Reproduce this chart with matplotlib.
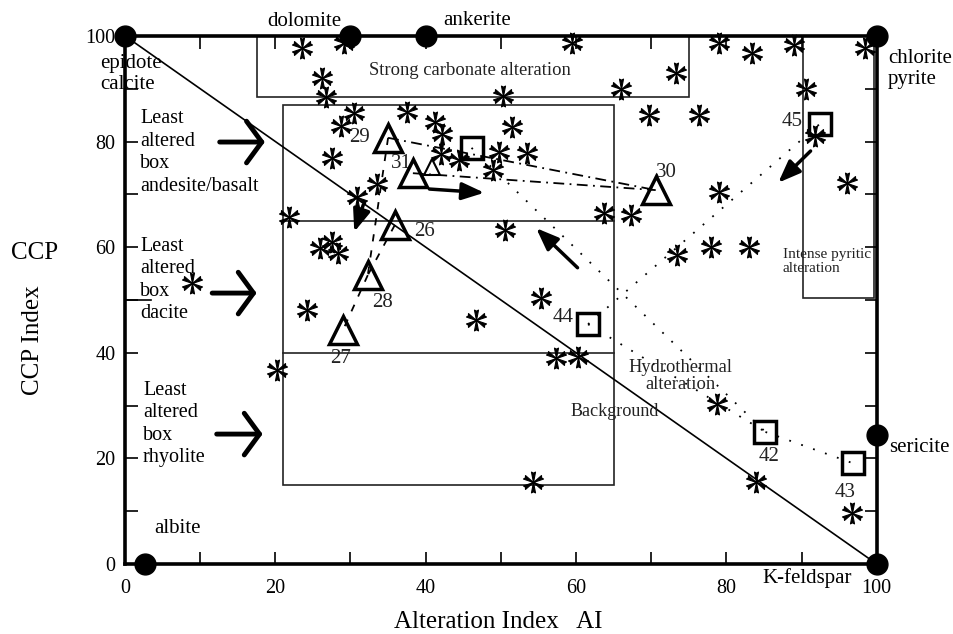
import numpy as np
import matplotlib
matplotlib.use('Agg')
import matplotlib.pyplot as plt
from matplotlib.patches import Rectangle
from matplotlib.path import Path

plt.rcParams['font.family'] = ['Liberation Serif', 'DejaVu Serif']

# samples plotted as asterisks (AI, CCP)
ai_samples = [23.5, 29.2, 26.2, 26.7, 30.5, 28.8, 37.5, 41.2, 42.2, 42.0,
              44.4, 51.5, 49.8, 53.5, 48.9, 27.5, 33.5, 30.9, 21.8, 63.7,
              67.3, 50.6, 25.9, 27.6, 28.3, 8.9, 24.2, 20.2, 46.7, 55.4,
              57.4, 60.2, 54.3, 78.8, 83.9, 96.7, 50.3, 66.0, 59.5, 73.3,
              79.0, 83.4, 89.0, 98.4, 90.6, 69.7, 76.4, 91.8, 96.0, 79.0,
              73.4, 78.0, 83.0]
ccp_samples = [97.7, 98.7, 92.0, 88.4, 85.4, 83.0, 85.6, 83.7, 81.4, 77.7,
               76.5, 82.8, 78.0, 77.8, 74.6, 76.9, 72.0, 69.5, 65.7, 66.5,
               66.1, 63.3, 59.8, 61.0, 58.9, 53.2, 48.1, 36.7, 46.2, 50.4,
               39.0, 39.2, 15.5, 30.3, 15.5, 9.7, 88.6, 90.0, 98.7, 93.0,
               98.7, 96.8, 98.3, 97.7, 90.0, 85.0, 85.0, 81.1, 72.2, 70.5,
               58.5, 60.0, 60.0]

# triangles
tri_ids = ['29', '31', '30', '26', '28', '27']
tri_ai = [35.0, 38.3, 70.6, 35.9, 32.3, 29.0]
tri_ccp = [80.7, 74.0, 70.8, 64.2, 54.7, 44.3]
small_tri_ai = [40.9]
small_tri_ccp = [75.2]

# squares
sq_ids = ['', '44', '42', '43', '45']
sq_ai = [46.1, 61.6, 85.2, 96.8, 92.4]
sq_ccp = [78.8, 45.4, 25.0, 19.1, 83.3]

# end-member minerals
mineral_names = ['epidote\ncalcite', 'dolomite', 'ankerite', 'chlorite\npyrite',
                 'sericite', 'K-feldspar', 'albite']
mineral_ai = [0, 30, 40, 100, 100, 100, 2.7]
mineral_ccp = [100, 100, 100, 100, 24.5, 0, 0]

# field boxes (AI min, CCP min, AI max, CCP max)
carbonate_box = [17.5, 88.5, 75, 100]
least_altered_box = [21, 15, 65, 87]
least_altered_splits = [40, 65]
pyritic_box = [90.2, 50.4, 99.6, 100]

# trends between samples
dashdot_links = [('29', '30'), ('31', '30')]
dashed_links = [('29', '28'), ('26', '28'), ('28', '27')]
dotted_links = [('sq', '42'), ('44', '42'), ('42', '43'), ('44', '45')]


def asteriskMarker():
  # six flared petals, like the Times asterisk
  verts = []
  codes = []
  w = np.radians(11)
  for ang in np.radians([90, 150, 210, 270, 330, 30]):
    verts += [(0, 0), (np.cos(ang - w), np.sin(ang - w)),
              (0.88 * np.cos(ang), 0.88 * np.sin(ang)),
              (np.cos(ang + w), np.sin(ang + w)), (0, 0)]
    codes += [Path.MOVETO, Path.LINETO, Path.LINETO, Path.LINETO, Path.CLOSEPOLY]
  return Path(verts, codes)


def getPoint(name):
  if name == 'sq':
    return sq_ai[0], sq_ccp[0]
  if name in tri_ids:
    i = tri_ids.index(name)
    return tri_ai[i], tri_ccp[i]
  i = sq_ids.index(name)
  return sq_ai[i], sq_ccp[i]


def drawLinks(ax, links, style):
  for a, b in links:
    x0, y0 = getPoint(a)
    x1, y1 = getPoint(b)
    ax.plot([x0, x1], [y0, y1], color='black', lw=1.3, linestyle=style, zorder=2)


def drawBox(ax, box):
  x0, y0, x1, y1 = box
  ax.add_patch(Rectangle((x0, y0), x1 - x0, y1 - y0, fill=False, lw=1.2,
                         ec='#222222', zorder=1))


def bigArrow(ax, x0, x1, y):
  ax.annotate('', xy=(x1, y), xytext=(x0, y), annotation_clip=False,
              arrowprops=dict(arrowstyle='->,head_length=0.55,head_width=0.75',
                              lw=3.5, color='black', mutation_scale=20,
                              shrinkA=0, shrinkB=0))


def smallArrow(ax, x0, y0, x1, y1):
  ax.annotate('', xy=(x1, y1), xytext=(x0, y0),
              arrowprops=dict(arrowstyle='-|>,head_length=0.9,head_width=0.35',
                              lw=2.5, color='black', mutation_scale=15,
                              shrinkA=0, shrinkB=0))


fig = plt.figure(figsize=(9.54, 6.34), dpi=100)
ax = fig.add_axes([0.131, 0.1104, 0.788, 0.833])
ax.set_xlim(0, 100)
ax.set_ylim(0, 100)

for s in ax.spines.values():
  s.set_linewidth(2.6)
ax.set_xticks(range(0, 101, 20))
ax.set_yticks(range(0, 101, 20))
ax.set_xticks(range(10, 100, 20), minor=True)
ax.set_yticks(range(10, 100, 20), minor=True)
ax.tick_params(which='both', direction='in', length=9, width=1.2,
               top=True, right=True, labelsize=14.5)
ax.tick_params(axis='x', pad=11)
ax.tick_params(axis='y', pad=7)

# boxes
drawBox(ax, carbonate_box)
drawBox(ax, least_altered_box)
for yy in least_altered_splits:
  ax.plot([least_altered_box[0], least_altered_box[2]], [yy, yy], color='#222222', lw=1.2, zorder=1)
drawBox(ax, pyritic_box)
ax.plot([0, 100], [100, 0], color='black', lw=1.2, zorder=1)
ax.plot([0, 3.5], [50, 50], color='black', lw=1.2, zorder=1)

# trend lines
drawLinks(ax, dashdot_links, (0, (6, 3, 1, 3)))
drawLinks(ax, dashed_links, (0, (4, 5)))
drawLinks(ax, dotted_links, (0, (1, 6)))

# samples
ax.plot(ai_samples, ccp_samples, linestyle='none', marker=asteriskMarker(), ms=15,
        mew=0.8, mfc='black', mec='black', zorder=4, clip_on=False)
ax.plot(tri_ai, tri_ccp, linestyle='none', marker='^', ms=20, mfc='none',
        mec='black', mew=2.5, zorder=5)
ax.plot(small_tri_ai, small_tri_ccp, linestyle='none', marker='^', ms=12,
        mfc='none', mec='black', mew=1.5, zorder=5)
ax.plot(sq_ai, sq_ccp, linestyle='none', marker='s', ms=16, mfc='none',
        mec='black', mew=2.5, zorder=5)
ax.plot(mineral_ai, mineral_ccp, linestyle='none', marker='o', ms=15,
        color='black', zorder=6, clip_on=False)

# sample numbers
tri_label_pos = [(31.2, 80.7), (36.8, 75.9), (72.0, 74.2), (39.8, 62.9), (34.3, 49.6), (28.7, 39.0)]
for lab, (lx, ly) in zip(tri_ids, tri_label_pos):
  ax.text(lx, ly, lab, fontsize=15, ha='center', va='center', color='#222222')
sq_label_pos = [None, (58.3, 46.6), (85.7, 20.3), (95.8, 13.6), (88.8, 83.7)]
for lab, pos in zip(sq_ids, sq_label_pos):
  if pos:
    ax.text(pos[0], pos[1], lab, fontsize=15, ha='center', va='center', color='#222222')

# mineral names
ax.text(-3.3, 92.8, mineral_names[0], fontsize=15, ha='left', va='center', linespacing=1.15)
ax.text(23.9, 102.7, mineral_names[1], fontsize=15, ha='center', va='center')
ax.text(46.9, 103.0, mineral_names[2], fontsize=15, ha='center', va='center')
ax.text(101.5, 93.8, mineral_names[3], fontsize=15, ha='left', va='center', linespacing=1.15)
ax.text(101.7, 22.0, mineral_names[4], fontsize=15, ha='left', va='center')
ax.text(90.7, -2.7, mineral_names[5], fontsize=15, ha='center', va='center')
ax.text(7.0, 6.8, mineral_names[6], fontsize=15, ha='center', va='center')

# field names
ax.text(45.9, 93.5, 'Strong carbonate alteration', fontsize=13.4, ha='center', va='center', color='#222222')
ax.text(87.5, 57.2, 'Intense pyritic\nalteration', fontsize=11, ha='left', va='center',
        linespacing=1.1, color='#222222')
ax.text(73.9, 35.6, 'Hydrothermal\nalteration', fontsize=13.3, ha='center', va='center',
        linespacing=1.05, color='#222222')
ax.text(65.2, 28.8, 'Background', fontsize=13.1, ha='center', va='center', color='#222222')
ax.text(2.0, 77.9, 'Least\naltered\nbox\nandesite/basalt', fontsize=14.5, ha='left', va='center', linespacing=1.25)
ax.text(2.0, 53.8, 'Least\naltered\nbox\ndacite', fontsize=14.5, ha='left', va='center', linespacing=1.25)
ax.text(2.4, 26.5, 'Least\naltered\nbox\nrhyolite', fontsize=14.5, ha='left', va='center', linespacing=1.25)

# arrows
bigArrow(ax, 12.6, 18.6, 79.9)
bigArrow(ax, 11.6, 17.5, 51.3)
bigArrow(ax, 12.2, 18.3, 24.6)
smallArrow(ax, 40.5, 71.0, 47.8, 70.3)
smallArrow(ax, 31.7, 68.0, 30.5, 62.9)
smallArrow(ax, 60.2, 56.1, 54.7, 63.6)
smallArrow(ax, 91.2, 78.2, 86.9, 72.2)

# axis titles
fig.text(498 / 954, 1 - 622 / 634, 'Alteration Index   AI', fontsize=18, ha='center', va='center')
fig.text(33 / 954, 1 - 340 / 634, 'CCP Index', fontsize=18, ha='center', va='center', rotation=90)
fig.text(35 / 954, 1 - 253 / 634, 'CCP', fontsize=18, ha='center', va='center')

fig.savefig('out.png', dpi=100)
